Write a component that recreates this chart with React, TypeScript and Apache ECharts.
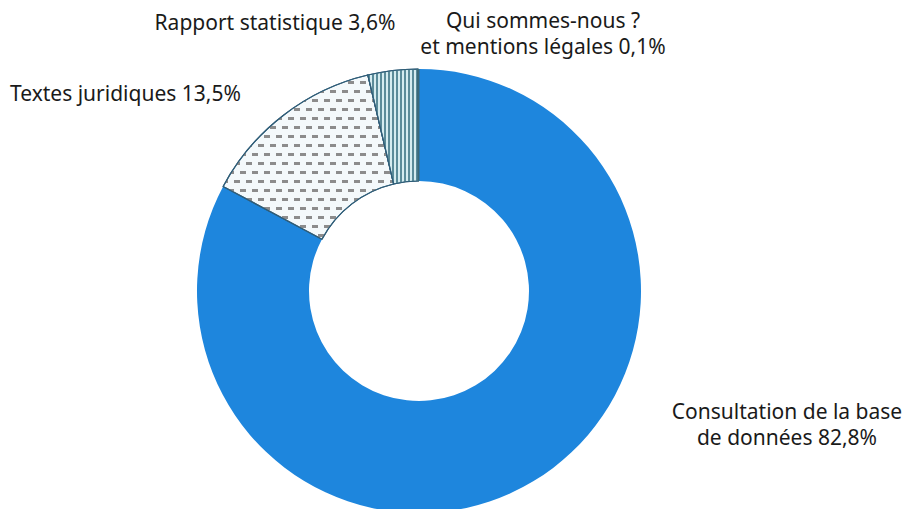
import React, { useEffect, useRef } from "react";
import * as echarts from "echarts";

const categories = [
  "Consultation de la base\nde données",
  "Textes juridiques",
  "Rapport statistique",
  "Qui sommes-nous ?\net mentions légales",
];
const values = [82.8, 13.5, 3.6, 0.1];

export default function App() {
  const ref = useRef<HTMLDivElement>(null);
  useEffect(() => {
    if (!ref.current) return;
    const chart = echarts.init(ref.current, undefined, { renderer: "svg" });
    const labelPos: Record<number, { x: number; y: number; align: string }> = {
      0: { x: 787, y: 424, align: "center" },
      1: { x: 10, y: 93, align: "left" },
      2: { x: 275, y: 22, align: "center" },
      3: { x: 543, y: 33, align: "center" },
    };
    const itemStyles = [
      { color: "#1e86dd", borderWidth: 0 },
      {
        color: "#f4f9fb",
        borderColor: "#2f5d78",
        borderWidth: 1.2,
        decal: {
          symbol: "rect",
          symbolSize: 1,
          color: "#8c8c8c",
          backgroundColor: "#f4f9fb",
          dashArrayX: [
            [6, 6],
            [0, 6, 6, 0],
          ],
          dashArrayY: [2.5, 5.5],
          rotation: 0,
        },
      },
      {
        color: "#d5ecf0",
        borderColor: "#2f5d78",
        borderWidth: 1.2,
        decal: {
          symbol: "rect",
          symbolSize: 1,
          color: "#5a8b99",
          backgroundColor: "#d8eef2",
          dashArrayX: [1.4, 1.6],
          dashArrayY: [8, 0],
          rotation: 0,
        },
      },
      { color: "#3d6b7a", borderColor: "#3d6b7a", borderWidth: 1 },
    ];
    chart.setOption({
      animation: false,
      backgroundColor: "#ffffff",
      series: [
        {
          type: "pie",
          center: [419, 291],
          radius: [110, 222],
          startAngle: 90,
          clockwise: true,
          silent: true,
          label: {
            show: true,
            position: "outside",
            overflow: "none",
            formatter: (p: any) =>
              `${p.name} ${p.value.toFixed(1).replace(".", ",")}%`,
            fontFamily: "Noto Sans",
            fontSize: 21,
            lineHeight: 26,
            color: "#1a1a1a",
          },
          labelLine: { show: false },
          labelLayout: (params: any) => {
            const p = labelPos[params.dataIndex];
            return { x: p.x, y: p.y, align: p.align, verticalAlign: "middle" };
          },
          data: categories.map((name, i) => ({
            name,
            value: values[i],
            itemStyle: itemStyles[i],
            label: { align: labelPos[i].align },
          })),
        },
      ],
    });
    return () => chart.dispose();
  }, []);
  return (
    <div
      ref={ref}
      style={{ position: "absolute", left: 0, top: 0, width: 906, height: 509 }}
    />
  );
}
